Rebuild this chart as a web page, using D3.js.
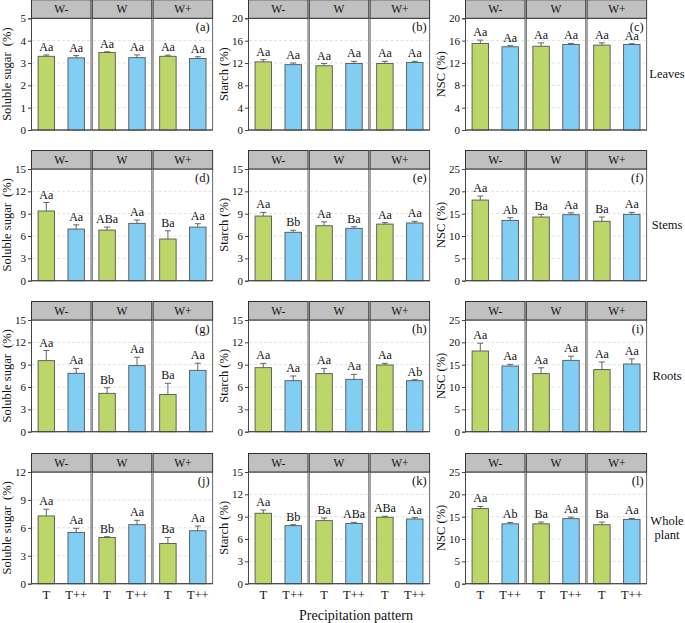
<!DOCTYPE html>
<html><head><meta charset="utf-8">
<script src="https://cdn.jsdelivr.net/npm/d3@7"></script>
<style>body{margin:0;background:#fff} svg{display:block} text{font-family:"Liberation Serif","Times New Roman","DejaVu Serif",serif}</style>
</head><body><svg id="c" width="685" height="623"></svg>
<script>
const groups = ["W-", "W", "W+"];
const treatments = ["T", "T++"];
const organs = ["Leaves", "Stems", "Roots", ["Whole", "plant"]];
const variables = ["Soluble sugar  (%)", "Starch (%)", "NSC (%)"];
const panelTags = ["(a)","(b)","(c)","(d)","(e)","(f)","(g)","(h)","(i)","(j)","(k)","(l)"];
const yMax  = [5, 20, 20, 15, 15, 25, 15, 15, 25, 12, 15, 25];
const yStep = [1, 4, 4, 3, 3, 5, 3, 3, 5, 3, 3, 5];
const xTitle = "Precipitation pattern";

// order within each panel: W- T, W- T++, W T, W T++, W+ T, W+ T++
const meanA = [3.30, 3.23, 3.47, 3.24, 3.30, 3.20];
const errA  = [0.06, 0.10, 0.03, 0.12, 0.05, 0.08];
const sigA  = ["Aa","Aa","Aa","Aa","Aa","Aa"];
const meanB = [12.2, 11.7, 11.5, 11.9, 11.9, 12.1];
const errB  = [0.4, 0.3, 0.4, 0.4, 0.4, 0.2];
const sigB  = ["Aa","Aa","Aa","Aa","Aa","Aa"];
const meanC = [15.5, 14.9, 15.0, 15.3, 15.2, 15.3];
const errC  = [0.6, 0.2, 0.6, 0.2, 0.4, 0.15];
const sigC  = ["Aa","Aa","Aa","Aa","Aa","Aa"];
const meanD = [9.36, 6.94, 6.8, 7.7, 5.6, 7.2];
const errD  = [1.14, 0.56, 0.4, 0.45, 1.1, 0.45];
const sigD  = ["Aa","Aa","ABa","Aa","Ba","Aa"];
const meanE = [8.68, 6.5, 7.38, 7.03, 7.6, 7.75];
const errE  = [0.5, 0.27, 0.52, 0.22, 0.2, 0.22];
const sigE  = ["Aa","Bb","Aa","Ba","Aa","Aa"];
const meanF = [18.05, 13.5, 14.25, 14.77, 13.3, 14.85];
const errF  = [0.9, 0.6, 0.6, 0.43, 0.95, 0.45];
const sigF  = ["Aa","Ab","Ba","Aa","Ba","Aa"];
const meanG = [9.54, 7.84, 5.15, 8.87, 5.0, 8.24];
const errG  = [1.36, 0.66, 0.75, 1.13, 1.5, 0.96];
const sigG  = ["Aa","Aa","Bb","Aa","Ba","Aa"];
const meanH = [8.6, 6.85, 7.8, 7.03, 8.96, 6.85];
const errH  = [0.58, 0.63, 0.7, 0.67, 0.22, 0.13];
const sigH  = ["Aa","Aa","Aa","Aa","Aa","Ab"];
const meanI = [18.06, 14.7, 13.0, 15.97, 13.9, 15.15];
const errI  = [1.74, 0.37, 1.3, 0.93, 1.7, 1.15];
const sigI  = ["Aa","Aa","Aa","Aa","Aa","Aa"];
const meanJ = [7.28, 5.51, 4.97, 6.34, 4.32, 5.69];
const errJ  = [0.72, 0.44, 0.08, 0.47, 0.65, 0.51];
const sigJ  = ["Aa","Aa","Bb","Aa","Ba","Aa"];
const meanK = [9.46, 7.79, 8.47, 8.1, 8.92, 8.69];
const errK  = [0.44, 0.14, 0.36, 0.14, 0.13, 0.18];
const sigK  = ["Aa","Bb","Ba","ABa","ABa","Aa"];
const meanL = [16.8, 13.4, 13.4, 14.56, 13.2, 14.4];
const errL  = [0.5, 0.3, 0.4, 0.34, 0.6, 0.2];
const sigL  = ["Aa","Ab","Ba","Aa","Ba","Aa"];

const means = [meanA,meanB,meanC,meanD,meanE,meanF,meanG,meanH,meanI,meanJ,meanK,meanL];
const errs  = [errA,errB,errC,errD,errE,errF,errG,errH,errI,errJ,errK,errL];
const sigs  = [sigA,sigB,sigC,sigD,sigE,sigF,sigG,sigH,sigI,sigJ,sigK,sigL];

const FONT = "Liberation Serif, Times New Roman, DejaVu Serif, serif";
const colors = {"T": "#bdd66a", "T++": "#82cdf3"};
const svg = d3.select("#c");

const plotTop = [18.3, 169, 320, 472];
const plotH = 111.7;
const stripH = 18.5;
const colLeft = [31.5, 248.5, 465.5];
const panelW = 59.5, panelStep = 60.8;

const xb = d3.scaleBand().domain(treatments).range([0, panelW]).paddingInner(0.45).paddingOuter(0.22);

function txt(sel) { return sel.append("text").attr("font-family", FONT).attr("fill", "#111"); }

for (let r = 0; r < 4; r++) {
  for (let c = 0; c < 3; c++) {
    const idx = r * 3 + c;
    const top = plotTop[r], bottom = top + plotH;
    const y = d3.scaleLinear().domain([0, yMax[idx]]).range([bottom, top]);
    const ticks = d3.range(0, yMax[idx] + yStep[idx] / 2, yStep[idx]);
    const g = svg.append("g");

    groups.forEach((grp, gi) => {
      const px = colLeft[c] + gi * panelStep;
      const pg = g.append("g").attr("transform", `translate(${px},0)`);
      pg.append("rect").attr("x", 0).attr("y", top).attr("width", panelW).attr("height", plotH)
        .attr("fill", "#fff").attr("stroke", "#666").attr("stroke-width", 1);
      pg.selectAll("line.grid").data(ticks.filter(t => t > 0 && t < yMax[idx])).enter().append("line")
        .attr("x1", 0.5).attr("x2", panelW - 0.5).attr("y1", d => y(d)).attr("y2", d => y(d))
        .attr("stroke", "#d8d8d8").attr("stroke-width", 0.8).attr("stroke-dasharray", "3,2");
      pg.append("rect").attr("x", 0).attr("y", top - stripH).attr("width", panelW).attr("height", stripH)
        .attr("fill", "#c0c0c0").attr("stroke", "#333").attr("stroke-width", 1);
      txt(pg).attr("x", panelW / 2).attr("y", top - stripH / 2 + 4)
        .attr("text-anchor", "middle").attr("font-size", 11.5).text(grp);

      treatments.forEach((tr, ti) => {
        const k = gi * 2 + ti;
        const v = means[idx][k], e = errs[idx][k];
        const bx = xb(tr), bw = xb.bandwidth(), cx = bx + bw / 2;
        pg.append("rect").attr("x", bx).attr("y", y(v)).attr("width", bw).attr("height", bottom - y(v))
          .attr("fill", colors[tr]).attr("stroke", "#555").attr("stroke-width", 0.9);
        pg.append("line").attr("x1", cx).attr("x2", cx).attr("y1", y(v)).attr("y2", y(v + e))
          .attr("stroke", "#555").attr("stroke-width", 0.9);
        pg.append("line").attr("x1", cx - 3).attr("x2", cx + 3).attr("y1", y(v + e)).attr("y2", y(v + e))
          .attr("stroke", "#555").attr("stroke-width", 0.9);
        txt(pg).attr("x", cx).attr("y", y(v + e) - 4).attr("text-anchor", "middle")
          .attr("font-size", 12).text(sigs[idx][k]);
        if (r === 3) {
          txt(pg).attr("x", cx).attr("y", bottom + 15).attr("text-anchor", "middle")
            .attr("font-size", 12.5).text(tr);
        }
      });
      if (gi === 2) {
        txt(pg).attr("x", panelW - 3).attr("y", top + 12.5).attr("text-anchor", "end")
          .attr("font-size", 12.5).text(panelTags[idx]);
      }
    });

    const ax = g.append("g").attr("transform", `translate(${colLeft[c] - 0.5},0)`)
      .call(d3.axisLeft(y).tickValues(ticks).tickSize(3).tickPadding(2).tickFormat(d3.format("d")));
    ax.attr("font-family", FONT);
    ax.select(".domain").attr("stroke", "#444");
    ax.selectAll(".tick line").attr("stroke", "#444");
    ax.selectAll(".tick text").attr("font-family", FONT).attr("font-size", 11).attr("fill", "#111");
    g.append("line").attr("x1", colLeft[c] - 0.5).attr("x2", colLeft[c] + 2 * panelStep + panelW)
      .attr("y1", bottom).attr("y2", bottom).attr("stroke", "#444").attr("stroke-width", 1);
    const ty = (top + bottom) / 2, tx = colLeft[c] - 25;
    txt(g).attr("transform", `translate(${tx},${ty}) rotate(-90)`).attr("text-anchor", "middle")
      .attr("dominant-baseline", "central").attr("font-size", 12.5)
      .style("white-space", "pre").text(variables[c]);
  }
  const lab = organs[r];
  const my = plotTop[r] + plotH / 2;
  if (Array.isArray(lab)) {
    lab.forEach((t, i) => txt(svg).attr("x", 667).attr("y", my + 4 + (i - 0.5) * 14)
      .attr("text-anchor", "middle").attr("font-size", 12.5).text(t));
  } else {
    txt(svg).attr("x", 667).attr("y", my + 4).attr("text-anchor", "middle")
      .attr("font-size", 12.5).text(lab);
  }
}

txt(svg).attr("x", 356).attr("y", 620).attr("text-anchor", "middle")
  .attr("font-size", 14).text(xTitle);
</script></body></html>
